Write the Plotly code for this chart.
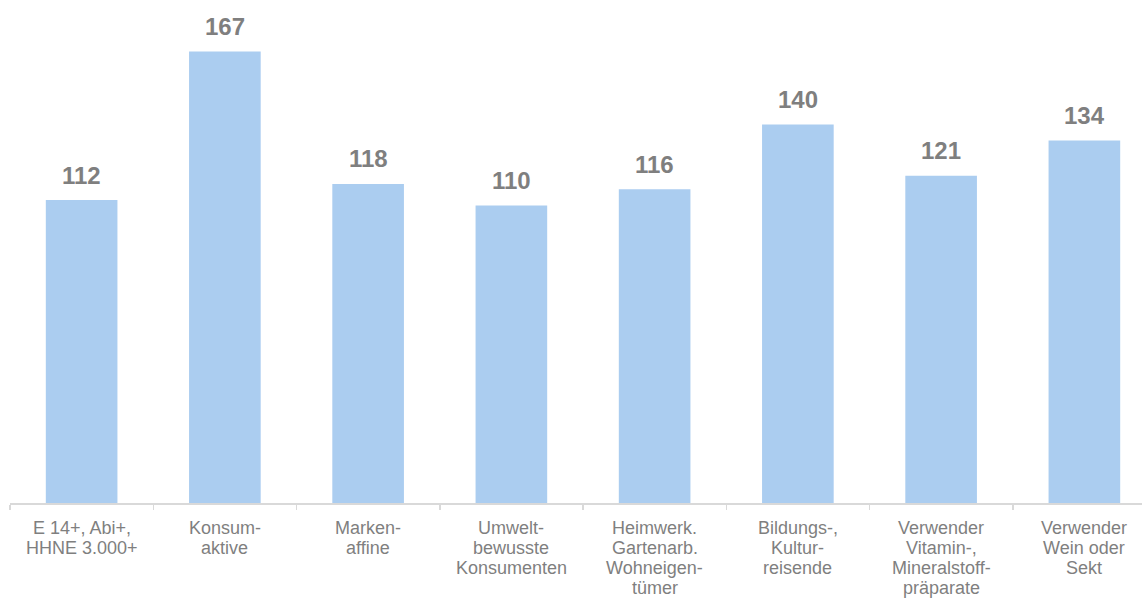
import plotly.graph_objects as go

categories = [
    "E 14+, Abi+,<br>HHNE 3.000+",
    "Konsum-<br>aktive",
    "Marken-<br>affine",
    "Umwelt-<br>bewusste<br>Konsumenten",
    "Heimwerk.<br>Gartenarb.<br>Wohneigen-<br>tümer",
    "Bildungs-,<br>Kultur-<br>reisende",
    "Verwender<br>Vitamin-,<br>Mineralstoff-<br>präparate",
    "Verwender<br>Wein oder<br>Sekt",
]
values = [112, 167, 118, 110, 116, 140, 121, 134]

FONT = "Liberation Sans, Arial, sans-serif"
GRAY = "#7F7F7F"

fig = go.Figure()
fig.add_trace(go.Bar(
    x=list(range(len(categories))), y=values,
    marker=dict(color="#ABCDF0", line=dict(width=0)),
    width=0.5,
    hoverinfo="skip",
))

# value labels
for i, v in enumerate(values):
    fig.add_annotation(
        x=i, y=v, text=f"<b>{v}</b>", showarrow=False,
        yanchor="middle", yshift=25,
        font=dict(family=FONT, size=24, color=GRAY),
    )

# category labels, one annotation per line for tight line spacing
for i, c in enumerate(categories):
    for j, line in enumerate(c.split("<br>")):
        fig.add_annotation(
            x=i, xref="x", y=0, yref="paper", text=line, showarrow=False,
            yanchor="middle", yshift=-(25 + 20 * j),
            font=dict(family=FONT, size=18, color=GRAY),
        )

fig.update_layout(
    width=1160, height=598,
    margin=dict(l=10, r=4, t=0, b=95),
    paper_bgcolor="white", plot_bgcolor="white",
    showlegend=False,
    hovermode=False,
    font=dict(family=FONT, size=18, color=GRAY),
    xaxis=dict(
        range=[-0.5, len(categories) - 0.5],
        showline=True, linecolor="#D9D9D9", linewidth=1.5,
        tickmode="array",
        tickvals=[k - 0.5 for k in range(len(categories) + 1)],
        ticktext=[""] * (len(categories) + 1),
        ticks="outside", ticklen=5, tickcolor="#D9D9D9", tickwidth=1.5,
        showgrid=False, zeroline=False, fixedrange=True,
    ),
    yaxis=dict(range=[0, 186], visible=False, showgrid=False, zeroline=False, fixedrange=True),
)

fig.write_html(
    "out.html",
    config={"displayModeBar": False, "staticPlot": True},
    post_script="document.body.style.margin='0';document.body.style.padding='0';document.body.style.overflow='hidden';document.documentElement.style.overflow='hidden';",
)
